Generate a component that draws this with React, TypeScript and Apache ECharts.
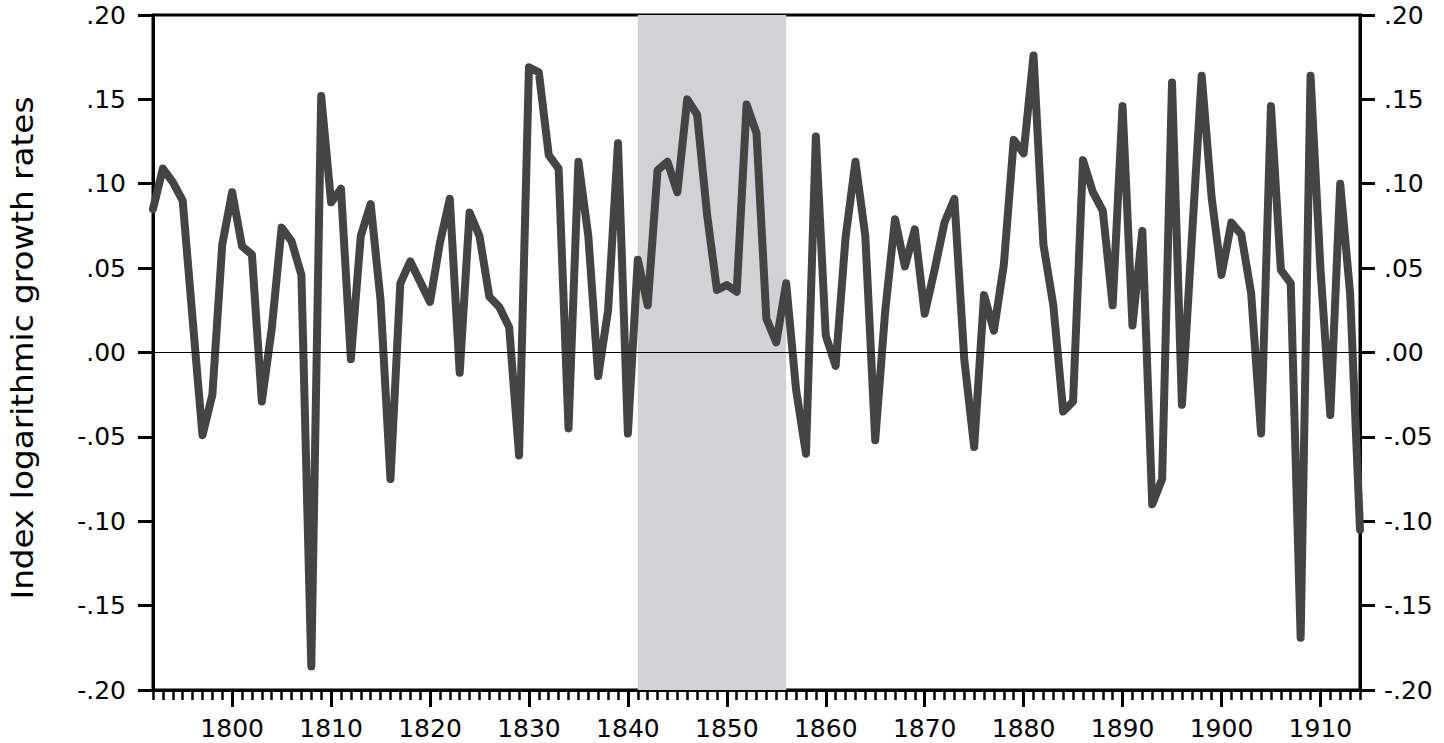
import React, { useEffect, useRef } from "react";
import * as echarts from "echarts";

const firstYear = 1792;
const lastYear = 1914;
const values: number[] = [
  0.085, 0.109, 0.101, 0.090, 0.020, -0.049, -0.025, 0.064, 0.095, 0.063,
  0.058, -0.029, 0.014, 0.074, 0.066, 0.046, -0.186, 0.152, 0.089, 0.097,
  -0.004, 0.069, 0.088, 0.031, -0.075, 0.041, 0.054, 0.042, 0.030, 0.065,
  0.091, -0.012, 0.083, 0.069, 0.033, 0.027, 0.015, -0.061, 0.169, 0.166,
  0.117, 0.109, -0.045, 0.113, 0.069, -0.014, 0.025, 0.124, -0.048, 0.055,
  0.028, 0.108, 0.113, 0.095, 0.150, 0.141, 0.082, 0.037, 0.040, 0.036,
  0.147, 0.130, 0.020, 0.006, 0.041, -0.022, -0.060, 0.128, 0.010, -0.008,
  0.068, 0.113, 0.069, -0.052, 0.024, 0.079, 0.051, 0.073, 0.023, 0.049,
  0.077, 0.091, -0.004, -0.056, 0.034, 0.013, 0.052, 0.126, 0.118, 0.176,
  0.064, 0.028, -0.035, -0.029, 0.114, 0.095, 0.084, 0.028, 0.146, 0.016,
  0.072, -0.090, -0.075, 0.160, -0.031, 0.067, 0.164, 0.092, 0.046, 0.077,
  0.070, 0.035, -0.048, 0.146, 0.049, 0.041, -0.169, 0.164, 0.050, -0.037,
  0.100, 0.035, -0.105,
];
const years = values.map((_, i) => firstYear + i);
const majorYears = [1800, 1810, 1820, 1830, 1840, 1850, 1860, 1870, 1880, 1890, 1900, 1910];
const shadeStart = 1841;
const shadeEnd = 1856;
const yMin = -0.2;
const yMax = 0.2;
const yStep = 0.05;
const yTitle = "Index logarithmic growth rates";

const FONT = "DejaVu Sans";

function fmtY(v: number): string {
  const s = v.toFixed(2);
  if (s === "0.00" || s === "-0.00") return ".00";
  return s.replace("0.", ".");
}

export default function App() {
  const ref = useRef<HTMLDivElement>(null);
  useEffect(() => {
    if (!ref.current) return;
    const chart = echarts.init(ref.current, undefined, { renderer: "svg" });
    const yAxisCommon = {
      type: "value" as const,
      min: yMin,
      max: yMax,
      interval: yStep,
      axisLine: { show: true, lineStyle: { color: "#000", width: 3 } },
      axisTick: { show: true, inside: false, length: 15, lineStyle: { color: "#000", width: 3 } },
      splitLine: { show: false },
    };
    chart.setOption({
      animation: false,
      backgroundColor: "#fff",
      grid: {
        left: 153,
        right: 84,
        top: 15,
        bottom: 53,
        show: true,
        borderColor: "#000",
        borderWidth: 3,
        backgroundColor: "transparent",
      },
      xAxis: [
        {
          type: "value",
          position: "bottom",
          min: firstYear,
          max: lastYear,
          axisLine: { show: true, onZero: false, lineStyle: { color: "#000", width: 3 } },
          axisTick: {
            show: true,
            customValues: majorYears,
            length: 17,
            lineStyle: { color: "#000", width: 3 },
          },
          axisLabel: {
            show: true,
            customValues: majorYears,
            margin: 26,
            fontSize: 25,
            fontFamily: FONT,
            color: "#000",
            formatter: (v: number) => String(v),
          },
          splitLine: { show: false },
        },
        {
          type: "value",
          position: "bottom",
          offset: 0,
          min: firstYear,
          max: lastYear,
          interval: 1,
          axisLine: { show: false, onZero: false },
          axisTick: { show: true, length: 10, lineStyle: { color: "#000", width: 2.5 } },
          axisLabel: { show: false },
          splitLine: { show: false },
        },
      ],
      yAxis: [
        {
          ...yAxisCommon,
          position: "left",
          axisLabel: {
            margin: 27,
            fontSize: 25,
            fontFamily: FONT,
            color: "#000",
            formatter: fmtY,
          },
        },
        {
          ...yAxisCommon,
          position: "right",
          axisLabel: {
            margin: 24,
            fontSize: 25,
            fontFamily: FONT,
            color: "#000",
            formatter: fmtY,
          },
        },
      ],
      graphic: [
        {
          type: "text",
          x: 22,
          y: 348,
          rotation: Math.PI / 2,
          scaleX: 1.09,
          style: {
            text: yTitle,
            fontSize: 30,
            fontFamily: FONT,
            fill: "#000",
            align: "center",
            verticalAlign: "middle",
          },
        },
      ],
      series: [
        {
          type: "line",
          z: 1,
          data: [],
          silent: true,
          markArea: {
            silent: true,
            itemStyle: { color: "#d2d1d5" },
            data: [[{ xAxis: shadeStart }, { xAxis: shadeEnd }]],
          },
        },
        {
          type: "line",
          z: 2,
          data: [],
          silent: true,
          markLine: {
            silent: true,
            symbol: ["none", "none"],
            label: { show: false },
            lineStyle: { color: "#000", width: 1, type: "solid" },
            data: [{ yAxis: 0 }],
          },
        },
        {
          type: "line",
          z: 3,
          data: years.map((y, i) => [y, values[i]]),
          showSymbol: false,
          symbol: "none",
          lineStyle: { color: "#444444", width: 8, cap: "round", join: "round" },
        },
      ],
    });
    return () => chart.dispose();
  }, []);
  return (
    <div
      ref={ref}
      style={{ position: "absolute", left: 0, top: 0, width: 1444, height: 743 }}
    />
  );
}
